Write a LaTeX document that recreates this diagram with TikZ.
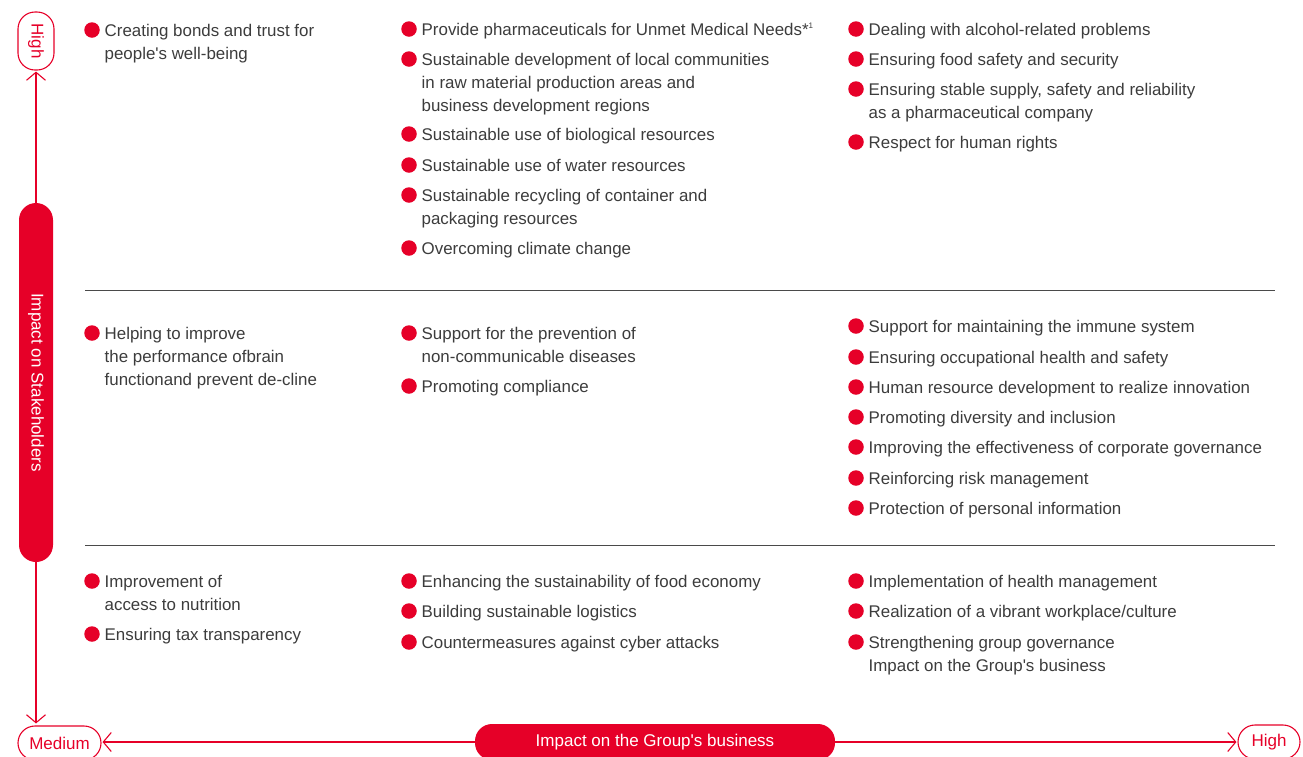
\documentclass[tikz,border=0pt]{standalone}
\usepackage{fontspec}
\setmainfont{Liberation Sans}
\usetikzlibrary{arrows.meta,calc}
\definecolor{brand}{HTML}{E60028}
\definecolor{ink}{HTML}{3C3C3C}
\definecolor{rulegray}{HTML}{4A4A4A}
\tikzset{
  dot/.style={circle, fill=brand, minimum size=15.5pt, inner sep=0pt},
  itemtext/.style={anchor=north west, inner sep=0pt, align=left, text=ink,
    font=\fontsize{16.9}{23}\selectfont},
  axisline/.style={draw=brand, line width=1.1pt},
  tipend/.style={-{Straight Barb[length=8pt,width=19pt,line width=1.1pt]}},
  pill/.style={draw=brand, line width=1.1pt, rounded corners=17pt, text=brand,
    inner sep=0pt, font=\fontsize{17}{20}\selectfont},
  bar/.style={fill=brand, rounded corners=17pt, text=white, inner sep=0pt,
    font=\fontsize{17}{20}\selectfont},
  sepline/.style={draw=rulegray, line width=1pt}
}
\newcommand\itm[4]{%
  \node[dot] (#1b) at (#2,#3) {};
  \node[itemtext] (#1) at (#2+12.5,#3-10.1) {\strut #4};}
\newcommand\apos{\textquotesingle}
\begin{document}
\begin{tikzpicture}[x=1pt,y=-1pt]
\useasboundingbox (0,0) rectangle (1303,756);
\clip (0,0) rectangle (1303,756);

% axes
\node[pill, rotate=-90, minimum width=58pt, minimum height=36pt] (hiV) at (36,41) {High};
\node[bar, rotate=-90, minimum width=359pt, minimum height=34pt] (stake) at (36,382.5) {Impact on Stakeholders};
\node[pill, minimum width=83pt, minimum height=34pt] (med) at (59.5,743) {Medium};
\node[bar, minimum width=360pt, minimum height=36pt] (grp) at (655,742) {Impact on the Group\apos s business};
\node[pill, minimum width=62pt, minimum height=34pt] (hiH) at (1269,742) {High};

\draw[axisline, tipend, shorten >=1pt] (stake.west) -- (hiV.east);
\draw[axisline, tipend, shorten >=2pt] (stake.east) -- (stake.east |- med.north);
\draw[axisline, tipend, shorten >=1pt] (grp.west) -- (grp.west -| med.east);
\draw[axisline, tipend, shorten >=1pt] (grp.east) -- (grp.east -| hiH.west);

% separators
\coordinate (s1a) at (85,290); \coordinate (s1b) at (1275,290);
\coordinate (s2a) at (85,545); \coordinate (s2b) at (1275,545);
\draw[sepline] (s1a) -- (s1b);
\draw[sepline] (s2a) -- (s2b);

% top row
\itm{a1}{92}{30}{Creating bonds and trust for\\people\apos s well-being}
\itm{b1}{409}{29}{Provide pharmaceuticals for Unmet Medical Needs*\textsuperscript{\fontsize{8}{8}\selectfont 1}}
\itm{b2}{409}{59}{Sustainable development of local communities\\in raw material production areas and\\business development regions}
\itm{b3}{409}{134}{Sustainable use of biological resources}
\itm{b4}{409}{165}{Sustainable use of water resources}
\itm{b5}{409}{195}{Sustainable recycling of container and\\packaging resources}
\itm{b6}{409}{248}{Overcoming climate change}
\itm{c1}{856}{29}{Dealing with alcohol-related problems}
\itm{c2}{856}{59}{Ensuring food safety and security}
\itm{c3}{856}{89}{Ensuring stable supply, safety and reliability\\as a pharmaceutical company}
\itm{c4}{856}{142}{Respect for human rights}

% middle row
\itm{d1}{92}{333}{Helping to improve\\the performance ofbrain\\functionand prevent de-cline}
\itm{e1}{409}{333}{Support for the prevention of\\non-communicable diseases}
\itm{e2}{409}{386}{Promoting compliance}
\itm{f1}{856}{326}{Support for maintaining the immune system}
\itm{f2}{856}{357}{Ensuring occupational health and safety}
\itm{f3}{856}{387}{Human resource development to realize innovation}
\itm{f4}{856}{417}{Promoting diversity and inclusion}
\itm{f5}{856}{447}{Improving the effectiveness of corporate governance}
\itm{f6}{856}{478}{Reinforcing risk management}
\itm{f7}{856}{508}{Protection of personal information}

% bottom row
\itm{g1}{92}{581}{Improvement of\\access to nutrition}
\itm{g2}{92}{634}{Ensuring tax transparency}
\itm{h1}{409}{581}{Enhancing the sustainability of food economy}
\itm{h2}{409}{611}{Building sustainable logistics}
\itm{h3}{409}{642}{Countermeasures against cyber attacks}
\itm{k1}{856}{581}{Implementation of health management}
\itm{k2}{856}{611}{Realization of a vibrant workplace/culture}
\itm{k3}{856}{642}{Strengthening group governance\\Impact on the Group\apos s business}
\end{tikzpicture}
\end{document}
